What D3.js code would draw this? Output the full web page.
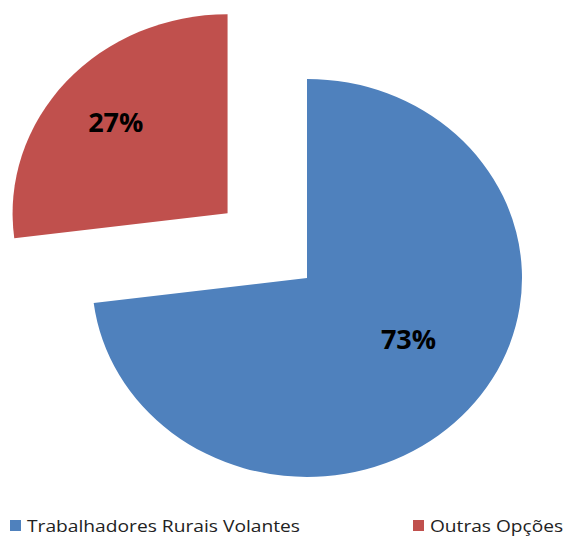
<!DOCTYPE html>
<html>
<head>
  <meta charset="utf-8">
  <title>Pie</title>
  <script src="https://d3js.org/d3.v7.min.js"></script>
  <style>
    body { margin: 0; background: #fff; }
  </style>
</head>
<body>
  <svg id="chart" width="564" height="536"></svg>
  <script>
    // data
    var categories = ['Trabalhadores Rurais Volantes', 'Outras Opções'];
    var values = [73, 27];
    var labels = ['73%', '27%'];

    var colors = ['#4F81BD', '#C0504D'];
    var cx = 307, cy = 278, rx = 215, ry = 199;
    var explode = [0, 98];          // px, along mid angle
    var labelRadius = [112, 138];   // label distance from centre
    var labelShift = [-8.4, 0];     // degrees, label angle tweak

    var svg = d3.select('#chart');
    var sx = rx / ry;

    var pie = d3.pie().sort(null).value(function(d) { return d; });
    var arcs = pie(values);
    var arc = d3.arc().innerRadius(0).outerRadius(ry);

    function offset(d, r, shift) {
      var a = (d.startAngle + d.endAngle) / 2 + (shift || 0) * Math.PI / 180;
      return [Math.sin(a) * r * sx, -Math.cos(a) * r];
    }

    arcs.forEach(function(d, i) {
      var o = offset(d, explode[i]);
      svg.append('g')
        .attr('transform', 'translate(' + (cx + o[0]) + ',' + (cy + o[1]) + ') scale(' + sx + ',1)')
        .append('path')
        .attr('d', arc(d))
        .attr('fill', colors[i]);

      var l = offset(d, labelRadius[i], labelShift[i]);
      svg.append('text')
        .attr('x', cx + o[0] + l[0])
        .attr('y', cy + o[1] + l[1])
        .attr('text-anchor', 'middle')
        .attr('dominant-baseline', 'central')
        .attr('font-family', 'Open Sans, sans-serif')
        .attr('font-weight', 'bold')
        .attr('font-size', 27)
        .attr('fill', '#000')
        .text(labels[i]);
    });

    // legend
    var legendX = [10, 413];
    var legend = svg.selectAll('.legend')
      .data(categories)
      .enter().append('g')
      .attr('class', 'legend')
      .attr('transform', function(d, i) { return 'translate(' + legendX[i] + ',518)'; });

    legend.append('rect')
      .attr('y', 2)
      .attr('width', 11).attr('height', 11)
      .attr('fill', function(d, i) { return colors[i]; });

    legend.append('text')
      .attr('x', 17)
      .attr('y', 14)
      .attr('font-family', 'Open Sans, sans-serif')
      .attr('font-size', 17)
      .attr('fill', '#222')
      .attr('textLength', function(d, i) { return i === 0 ? 273 : 133; })
      .attr('lengthAdjust', 'spacingAndGlyphs')
      .text(function(d) { return d; });
  </script>
</body>
</html>
